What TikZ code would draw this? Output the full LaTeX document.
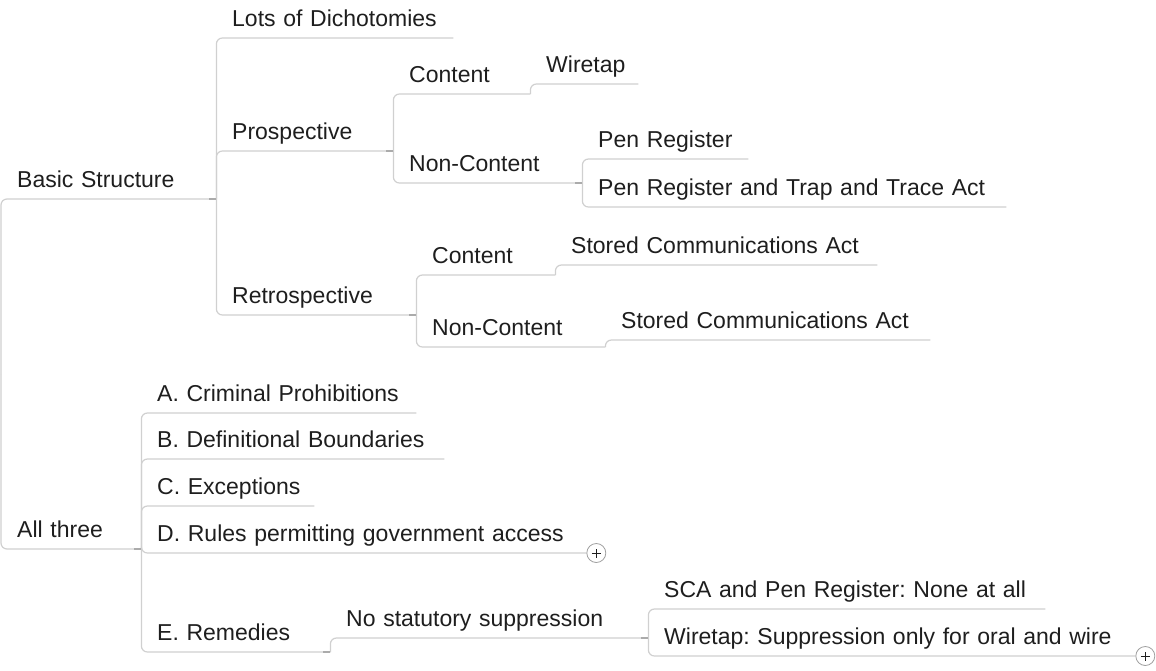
\documentclass[tikz,border=0pt]{standalone}
\usepackage{fontspec}
\setmainfont{Liberation Sans}
\frenchspacing
\definecolor{linegray}{HTML}{D0D0D0}
\definecolor{stubgray}{HTML}{ABABAB}
\definecolor{inkgray}{HTML}{1E1E1E}

\begin{document}
\begin{tikzpicture}[
    x=1pt, y=-1pt,
    topic/.style={anchor=south west, inner xsep=0pt, inner ysep=0pt,
                  text width=#1, align=left, text depth=11pt, text=inkgray,
                  font=\fontsize{23}{28}\selectfont,
                  execute at begin node={\frenchspacing\hspace*{16pt}}},
    link/.style={draw=linegray, line width=1.2pt, rounded corners=6pt},
    stub/.style={draw=stubgray, line width=1.2pt},
    more/.style={circle, draw=gray!75, fill=white, line width=0.8pt,
                 minimum size=19pt, inner sep=0pt, anchor=west,
                 path picture={
                   \draw[inkgray, line width=0.8pt]
                     ([xshift=-4.5pt]path picture bounding box.center) --
                     ([xshift=4.5pt]path picture bounding box.center)
                     ([yshift=-4.5pt]path picture bounding box.center) --
                     ([yshift=4.5pt]path picture bounding box.center);}}
  ]
  \useasboundingbox (0,0) rectangle (1156,670);
  % Basic Structure
  \node[topic=215pt] (basic) at (1,199) {Basic Structure};
  \node[topic=237pt] (lots) at (216,38) {Lots of Dichotomies};
  % Prospective
  \node[topic=177pt] (prosp) at (216,151) {Prospective};
  \node[topic=137pt] (pcont) at (393,94) {Content};
  \node[topic=108pt] (wiretap) at (530,84) {Wiretap};
  \node[topic=189pt] (pnon) at (393,183) {Non-Content};
  \node[topic=166pt] (pen) at (582,159) {Pen Register};
  \node[topic=424pt] (pentrap) at (582,207) {Pen Register and Trap and Trace Act};
  % Retrospective
  \node[topic=200pt] (retro) at (216,315) {Retrospective};
  \node[topic=139pt] (rcont) at (416,275) {Content};
  \node[topic=322pt] (sca1) at (555,265) {Stored Communications Act};
  \node[topic=189pt] (rnon) at (416,347) {Non-Content};
  \node[topic=325pt] (sca2) at (605,340) {Stored Communications Act};
  % All three
  \node[topic=140pt] (three) at (1,549) {All three};
  \node[topic=275pt] (crim) at (141,413) {A. Criminal Prohibitions};
  \node[topic=303pt] (defn) at (141,459) {B. Definitional Boundaries};
  \node[topic=173pt] (exc) at (141,506) {C. Exceptions};
  \node[topic=445pt] (rules) at (141,553) {D. Rules permitting government access};
  % Remedies
  \node[topic=189pt] (rem) at (141,652) {E. Remedies};
  \node[topic=318pt] (nosup) at (330,638) {No statutory suppression};
  \node[topic=397pt] (scanone) at (648,609) {SCA and Pen Register: None at all};
  \node[topic=487pt] (wirsup) at (648,656) {Wiretap: Suppression only for oral and wire};
  % Lijnen
  \coordinate (root) at (1,374);
  \draw[link] (root) |- (basic.south east);
  \draw[link] (root) |- (three.south east);
  \draw[link] (basic.south east) |- (lots.south east);
  \draw[link] (basic.south east) |- (prosp.south east);
  \draw[link] (basic.south east) |- (retro.south east);
  \draw[link] (prosp.south east) |- (pcont.south east);
  \draw[link] (prosp.south east) |- (pnon.south east);
  \draw[link] (pcont.south east) |- (wiretap.south east);
  \draw[link] (pnon.south east) |- (pen.south east);
  \draw[link] (pnon.south east) |- (pentrap.south east);
  \draw[link] (retro.south east) |- (rcont.south east);
  \draw[link] (retro.south east) |- (rnon.south east);
  \draw[link] (rcont.south east) |- (sca1.south east);
  \draw[link] (rnon.south east) |- (sca2.south east);
  \draw[link] (three.south east) |- (crim.south east);
  \draw[link] (three.south east) |- (defn.south east);
  \draw[link] (three.south east) |- (exc.south east);
  \draw[link] (three.south east) |- (rules.south east);
  \draw[link] (three.south east) |- (rem.south east);
  \draw[link] (rem.south east) |- (nosup.south east);
  \draw[link] (nosup.south east) |- (scanone.south east);
  \draw[link] (nosup.south east) |- (wirsup.south east);
  % Aanzetjes
  \draw[stub] (basic.south east) -- ++(-7,0);
  \draw[stub] (prosp.south east) -- ++(-7,0);
  \draw[stub] (pnon.south east) -- ++(-7,0);
  \draw[stub] (retro.south east) -- ++(-7,0);
  \draw[stub] (three.south east) -- ++(-7,0);
  \draw[stub] (rem.south east) -- ++(-7,0);
  \draw[stub] (nosup.south east) -- ++(-7,0);
  % Uitklappen
  \node[more] (rulesmore) at (rules.south east) {};
  \node[more] (wirmore) at (wirsup.south east) {};
\end{tikzpicture}
\end{document}
